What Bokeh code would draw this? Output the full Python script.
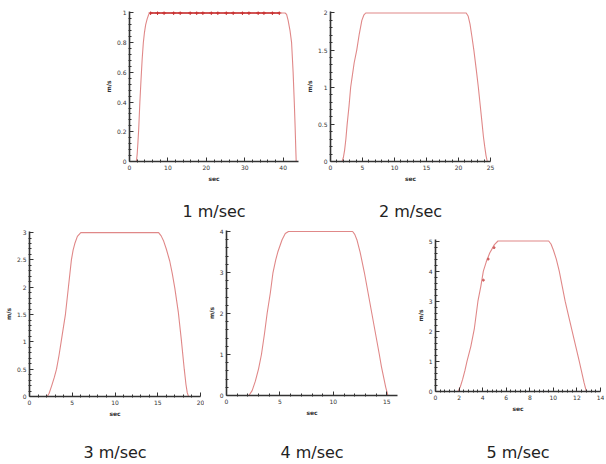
import numpy as np
from bokeh.plotting import figure
from bokeh.layouts import row, column, Spacer
from bokeh.models import Range1d, FixedTicker, NumeralTickFormatter, LinearAxis
from bokeh.embed import file_html
from bokeh.resources import INLINE

# ---------------- data ----------------
captions = ["1 m/sec", "2 m/sec", "3 m/sec", "4 m/sec", "5 m/sec"]

t1 = [1.8, 2.0, 2.2, 2.4, 2.7, 3.0, 3.3, 3.6, 3.9, 4.2, 4.6, 5.0, 5.3,
      40.5, 40.9, 41.3, 41.8, 42.2, 42.4, 42.6, 42.9, 43.1, 43.3, 43.4]
v1 = [0, 0.05, 0.13, 0.22, 0.4, 0.55, 0.69, 0.8, 0.87, 0.92, 0.96, 0.99, 1.0,
      1.0, 0.99, 0.95, 0.88, 0.8, 0.7, 0.6, 0.4, 0.25, 0.08, 0]
t1_pts = [5.5, 7.3, 9.0, 11.5, 13.2, 15.8, 17.5, 19.1, 21.3, 23.0, 25.2, 27.0, 29.4, 31.1, 33.5, 35.0, 37.2, 39.0]
v1_pts = [1.0] * len(t1_pts)

t2 = [1.8, 2.0, 2.2, 2.4, 2.6, 2.9, 3.15, 3.4, 3.7, 4.1, 4.5, 4.9, 5.2, 5.5,
      21.2, 21.5, 21.8, 22.1, 22.4, 22.8, 23.1, 23.4, 23.7, 23.9, 24.1, 24.3, 24.5]
v2 = [0, 0.05, 0.15, 0.3, 0.5, 0.75, 1.0, 1.15, 1.33, 1.5, 1.72, 1.9, 1.97, 2.0,
      2.0, 1.96, 1.85, 1.68, 1.5, 1.22, 1.0, 0.75, 0.5, 0.33, 0.2, 0.08, 0]

t3 = [2.07, 2.3, 2.6, 2.9, 3.16, 3.45, 3.7, 3.95, 4.2, 4.55, 4.9, 5.1, 5.3, 5.6, 6.0,
      15.1, 15.4, 15.7, 16.0, 16.4, 16.7, 17.0, 17.4, 17.75, 18.1, 18.3, 18.45, 18.6]
v3 = [0, 0.06, 0.2, 0.35, 0.5, 0.75, 1.0, 1.25, 1.5, 2.0, 2.5, 2.68, 2.8, 2.93, 3.0,
      3.0, 2.94, 2.84, 2.7, 2.48, 2.25, 1.98, 1.55, 1.05, 0.5, 0.22, 0.07, 0]

t4 = [2.1, 2.4, 2.7, 3.0, 3.27, 3.55, 3.8, 4.1, 4.35, 4.6, 4.8, 5.2, 5.5, 5.8,
      11.8, 12.0, 12.2, 12.5, 12.9, 13.25, 13.6, 13.95, 14.3, 14.5, 14.7, 14.9, 15.1]
v4 = [0, 0.12, 0.35, 0.65, 1.0, 1.5, 2.0, 2.5, 3.0, 3.3, 3.5, 3.8, 3.95, 4.0,
      4.0, 3.93, 3.8, 3.5, 3.0, 2.5, 2.0, 1.5, 1.0, 0.7, 0.45, 0.2, 0]

t5 = [1.9, 2.1, 2.3, 2.5, 2.67, 3.0, 3.3, 3.6, 3.85, 4.06, 4.3, 4.6, 5.0, 5.3,
      9.6, 9.8, 10.0, 10.25, 10.5, 10.75, 11.0, 11.3, 11.6, 11.9, 12.2, 12.4, 12.6, 12.8]
v5 = [0, 0.15, 0.4, 0.7, 1.0, 1.5, 2.1, 3.0, 3.5, 4.0, 4.3, 4.6, 4.88, 5.0,
      5.0, 4.9, 4.7, 4.4, 4.0, 3.5, 3.0, 2.5, 2.0, 1.5, 1.0, 0.65, 0.3, 0]
t5_pts = [4.06, 4.47, 4.97]
v5_pts = [3.7, 4.4, 4.78]

x1_ticks = [0, 10, 20, 30, 40]
y1_ticks = [0, 0.2, 0.4, 0.6, 0.8, 1]
x2_ticks = [0, 5, 10, 15, 20, 25]
y2_ticks = [0, 0.5, 1, 1.5, 2]
x3_ticks = [0, 5, 10, 15, 20]
y3_ticks = [0, 0.5, 1, 1.5, 2, 2.5, 3]
x4_ticks = [0, 5, 10, 15]
y4_ticks = [0, 1, 2, 3, 4]
x5_ticks = [0, 2, 4, 6, 8, 10, 12, 14]
y5_ticks = [0, 1, 2, 3, 4, 5]

x_label = "sec"
y_label = "m/s"

CURVE = "#e08888"
MARK = "#c83030"
AXIS = "#333333"
FONT = "DejaVu Sans"


def minor_of(ticks, n=4):
    out = []
    for a, b in zip(ticks[:-1], ticks[1:]):
        out += list(np.linspace(a, b, n + 2)[1:-1])
    return out


def make(caption, xmax, ymax, xt, yt, w, h, bl, br, bt, bb, cap_standoff):
    p = figure(width=w, height=h, output_backend="svg", toolbar_location=None,
               x_range=Range1d(0, xmax), y_range=Range1d(0, ymax),
               min_border_left=bl, min_border_right=br,
               min_border_top=bt, min_border_bottom=bb)
    p.frame_align = False
    p.outline_line_color = None
    p.xgrid.visible = False
    p.ygrid.visible = False
    p.background_fill_color = "white"
    p.border_fill_color = "white"
    for ax, ticks, lab in ((p.xaxis[0], xt, x_label), (p.yaxis[0], yt, y_label)):
        ax.ticker = FixedTicker(ticks=ticks, minor_ticks=minor_of(ticks))
        ax.formatter = NumeralTickFormatter(format="0.[0]")
        ax.axis_line_color = AXIS
        ax.axis_line_width = 1.6
        ax.major_tick_line_color = AXIS
        ax.minor_tick_line_color = AXIS
        ax.major_tick_in = 4
        ax.major_tick_out = 0
        ax.minor_tick_in = 2
        ax.minor_tick_out = 1
        ax.major_label_text_font = FONT
        ax.major_label_text_font_size = "6px"
        ax.major_label_text_color = "#333333"
        ax.major_label_standoff = 2
        ax.axis_label = lab
        ax.axis_label_text_font = FONT
        ax.axis_label_text_font_size = "6px"
        ax.axis_label_text_font_style = "bold"
        ax.axis_label_text_color = "#333333"
        ax.axis_label_standoff = 2
    cap = LinearAxis(axis_label=caption, ticker=FixedTicker(ticks=[]),
                     axis_line_color=None, major_tick_line_color=None,
                     minor_tick_line_color=None, major_tick_out=0, minor_tick_out=0,
                     major_label_text_font_size="0px",
                     axis_label_text_font=FONT, axis_label_text_font_size="16px",
                     axis_label_text_font_style="normal", axis_label_text_color="#222222",
                     axis_label_standoff=cap_standoff)
    p.add_layout(cap, "below")
    return p


p1 = make(captions[0], 44, 1.01, x1_ticks, y1_ticks, 211, 223, 40, 2, 11, 62, 17)
p1.line(t1, v1, line_color=CURVE, line_width=1.1)
p1.line(t1_pts, v1_pts, line_color=MARK, line_width=1.4)
p1.scatter(t1_pts, v1_pts, marker="cross", size=4, line_color=MARK, line_width=1)

p2 = make(captions[1], 25, 2.02, x2_ticks, y2_ticks, 200, 223, 30, 10, 11, 62, 17)
p2.line(t2, v2, line_color=CURVE, line_width=1.1)

p3 = make(captions[2], 20, 3.02, x3_ticks, y3_ticks, 204, 241, 29, 4, 8, 68, 23)
p3.line(t3, v3, line_color=CURVE, line_width=1.1)

p4 = make(captions[3], 16, 4.025, x4_ticks, y4_ticks, 209, 241, 20, 16, 7, 69, 24)
p4.line(t4, v4, line_color=CURVE, line_width=1.1)

p5 = make(captions[4], 14, 5.05, x5_ticks, y5_ticks, 191, 241, 20, 4, 16, 73, 28)
p5.line(t5, v5, line_color=CURVE, line_width=1.1)
p5.scatter(t5_pts, v5_pts, marker="circle", size=2, line_color="#d06060", fill_color="#d06060")

top = row(Spacer(width=89, height=223), p1, p2)
bottom = row(p3, p4, p5)
layout = column(top, bottom)

open("out.html", "w").write(file_html(layout, INLINE))
